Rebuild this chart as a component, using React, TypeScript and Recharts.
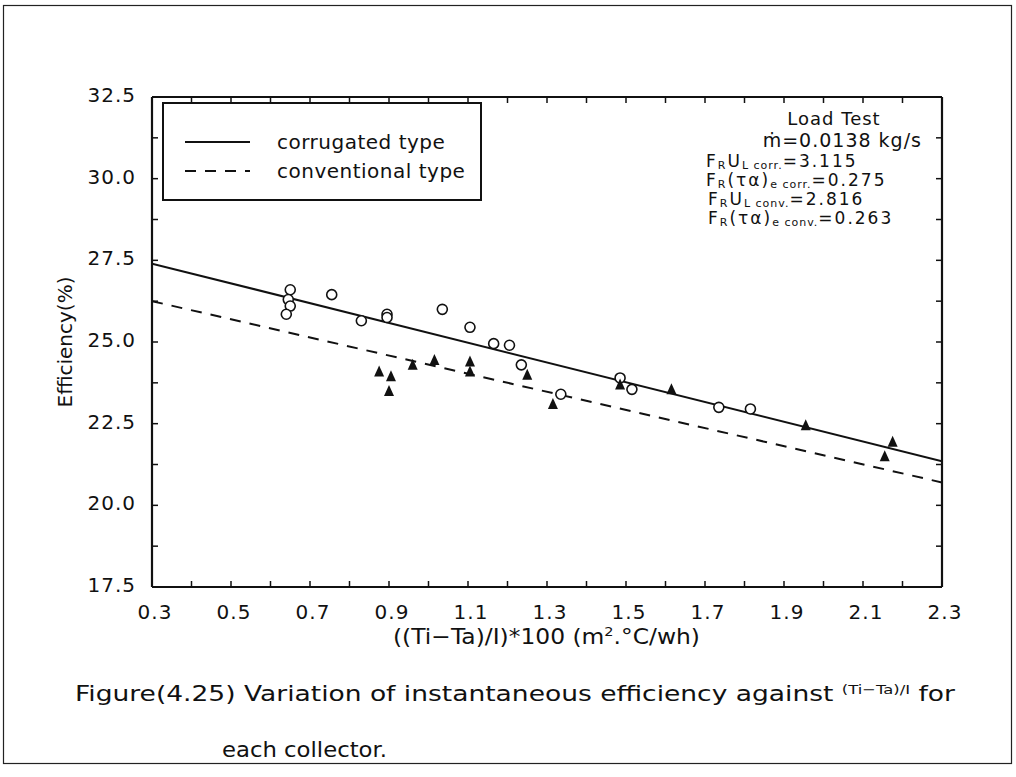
import { ComposedChart, Line, Scatter, XAxis, YAxis } from 'recharts';

// x = ((Ti-Ta)/I)*100, eff = efficiency %
const corrugatedX = [0.65, 0.645, 0.65, 0.64, 0.755, 0.83, 0.895, 0.895, 1.035, 1.105, 1.165, 1.205, 1.235, 1.335, 1.485, 1.515, 1.735, 1.815];
const corrugatedEff = [26.6, 26.3, 26.1, 25.85, 26.45, 25.65, 25.85, 25.75, 26.0, 25.45, 24.95, 24.9, 24.3, 23.4, 23.9, 23.55, 23.0, 22.95];

const conventionalX = [0.875, 0.905, 0.9, 0.96, 1.015, 1.105, 1.105, 1.25, 1.315, 1.485, 1.615, 1.955, 2.175, 2.155];
const conventionalEff = [24.1, 23.95, 23.5, 24.3, 24.45, 24.4, 24.1, 24.0, 23.1, 23.7, 23.55, 22.45, 21.95, 21.5];

// fitted lines, end points
const fitX = [0.3, 2.3];
const corrugatedFitEff = [27.4, 21.35];
const conventionalFitEff = [26.25, 20.7];

const xTicks = [0.3, 0.4, 0.5, 0.6, 0.7, 0.8, 0.9, 1.0, 1.1, 1.2, 1.3, 1.4, 1.5, 1.6, 1.7, 1.8, 1.9, 2.0, 2.1, 2.2, 2.3];
const xTickLabels = ['0.3', '0.5', '0.7', '0.9', '1.1', '1.3', '1.5', '1.7', '1.9', '2.1', '2.3'];
const yTicks = [17.5, 18.75, 20, 21.25, 22.5, 23.75, 25, 26.25, 27.5, 28.75, 30, 31.25, 32.5];
const yTickLabels = ['17.5', '20.0', '22.5', '25.0', '27.5', '30.0', '32.5'];

const corrugated = corrugatedX.map((x, i) => ({ x, eff: corrugatedEff[i] }));
const conventional = conventionalX.map((x, i) => ({ x, eff: conventionalEff[i] }));
const corrugatedFit = fitX.map((x, i) => ({ x, eff: corrugatedFitEff[i] }));
const conventionalFit = fitX.map((x, i) => ({ x, eff: conventionalFitEff[i] }));

const INK = '#111';
const FONT = '"DejaVu Sans", sans-serif';

const findLabel = (list: string[], v: number) => list.find((l) => Math.abs(Number(l) - v) < 1e-6);

const BottomTick = (props: any) => {
    const { x, y, payload } = props;
    const label = findLabel(xTickLabels, payload.value);
    return (
        <g>
            <line x1={x} x2={x} y1={y} y2={y - 6} stroke={INK} strokeWidth={1.5} />
            {label && (
                <text x={x + 3} y={y + 32} textAnchor="middle" fontSize={20} letterSpacing={1} fontFamily={FONT} fill={INK}>
                    {label}
                </text>
            )}
        </g>
    );
};

const TopTick = (props: any) => {
    const { x, y } = props;
    return <line x1={x} x2={x} y1={y} y2={y + 6} stroke={INK} strokeWidth={1.5} />;
};

const LeftTick = (props: any) => {
    const { x, y, payload } = props;
    const label = findLabel(yTickLabels, payload.value);
    return (
        <g>
            <line x1={x} x2={x + 6} y1={y} y2={y} stroke={INK} strokeWidth={1.5} />
            {label && (
                <text x={x - 16} y={y + 5} textAnchor="end" fontSize={20} letterSpacing={1} fontFamily={FONT} fill={INK}>
                    {label}
                </text>
            )}
        </g>
    );
};

const RightTick = (props: any) => {
    const { x, y } = props;
    return <line x1={x} x2={x - 6} y1={y} y2={y} stroke={INK} strokeWidth={1.5} />;
};

const OpenCircle = (props: any) => (
    <circle cx={props.cx} cy={props.cy} r={5} fill="#fff" stroke={INK} strokeWidth={1.6} />
);

const FilledTriangle = (props: any) => {
    const { cx, cy } = props;
    return <path d={`M${cx},${cy - 6} L${cx + 5},${cy + 5} L${cx - 5},${cy + 5} Z`} fill={INK} />;
};

const axisLine = { stroke: INK, strokeWidth: 2.2 };

export default function App() {
    return (
        <div style={{ position: 'fixed', left: 0, top: 0, width: 1016, height: 777, background: '#fff' }}>
            <ComposedChart
                width={1016}
                height={777}
                margin={{ top: 96, right: 73, bottom: 189, left: 151 }}
                style={{ position: 'absolute', left: 0, top: 0 }}
            >
                <XAxis xAxisId="b" orientation="bottom" type="number" dataKey="x" domain={[0.3, 2.3]} ticks={xTicks}
                    interval={0} height={1} tickSize={0} tickMargin={0} tickLine={false} axisLine={axisLine}
                    tick={<BottomTick />} allowDataOverflow />
                <XAxis xAxisId="t" orientation="top" type="number" dataKey="x" domain={[0.3, 2.3]} ticks={xTicks}
                    interval={0} height={1} tickSize={0} tickMargin={0} tickLine={false} axisLine={axisLine}
                    tick={<TopTick />} allowDataOverflow />
                <YAxis yAxisId="l" orientation="left" type="number" dataKey="eff" domain={[17.5, 32.5]} ticks={yTicks}
                    interval={0} width={1} tickSize={0} tickMargin={0} tickLine={false} axisLine={axisLine}
                    tick={<LeftTick />} allowDataOverflow />
                <YAxis yAxisId="r" orientation="right" type="number" dataKey="eff" domain={[17.5, 32.5]} ticks={yTicks}
                    interval={0} width={1} tickSize={0} tickMargin={0} tickLine={false} axisLine={axisLine}
                    tick={<RightTick />} allowDataOverflow />

                <Line xAxisId="b" yAxisId="l" data={corrugatedFit} dataKey="eff" stroke={INK} strokeWidth={2}
                    dot={false} isAnimationActive={false} />
                <Line xAxisId="t" yAxisId="r" data={conventionalFit} dataKey="eff" stroke={INK} strokeWidth={2}
                    strokeDasharray="11 9" dot={false} isAnimationActive={false} />
                <Scatter xAxisId="b" yAxisId="l" data={corrugated} dataKey="eff" shape={<OpenCircle />}
                    isAnimationActive={false} />
                <Scatter xAxisId="t" yAxisId="r" data={conventional} dataKey="eff" shape={<FilledTriangle />}
                    isAnimationActive={false} />
            </ComposedChart>

            <svg width={1016} height={777} style={{ position: 'absolute', left: 0, top: 0, pointerEvents: 'none' }}
                fontFamily={FONT} fill={INK}>
                {/* page frame */}
                <rect x={3.5} y={5.5} width={1008} height={758} fill="none" stroke="#222" strokeWidth={1.2} />

                {/* legend */}
                <rect x={163} y={103} width={318} height={97} fill="#fff" stroke={INK} strokeWidth={2} />
                <line x1={185} x2={250} y1={142} y2={142} stroke={INK} strokeWidth={2} />
                <line x1={185} x2={250} y1={171} y2={171} stroke={INK} strokeWidth={2} strokeDasharray="11 9" />
                <text x={277} y={149} fontSize={20} letterSpacing={0.5}>corrugated type</text>
                <text x={277} y={178} fontSize={20} letterSpacing={0.5}>conventional type</text>

                {/* test info */}
                <text x={834} y={125} fontSize={18} letterSpacing={1} textAnchor="middle">Load Test</text>
                <text x={922} y={147} fontSize={19} letterSpacing={1} textAnchor="end">ṁ=0.0138 kg/s</text>
                <g fontSize={17} letterSpacing={2}>
                    <text x={706} y={167}>
                        F<tspan fontSize={11} dy={2}>R</tspan><tspan dy={-2}>U</tspan><tspan fontSize={11} letterSpacing={1} dy={2}>L corr.</tspan><tspan dy={-2}>=3.115</tspan>
                    </text>
                    <text x={706} y={186}>
                        F<tspan fontSize={11} dy={2}>R</tspan><tspan dy={-2}>(τα)</tspan><tspan fontSize={11} letterSpacing={1} dy={2}>e corr.</tspan><tspan dy={-2}>=0.275</tspan>
                    </text>
                    <text x={708} y={205}>
                        F<tspan fontSize={11} dy={2}>R</tspan><tspan dy={-2}>U</tspan><tspan fontSize={11} letterSpacing={1} dy={2}>L conv.</tspan><tspan dy={-2}>=2.816</tspan>
                    </text>
                    <text x={708} y={224}>
                        F<tspan fontSize={11} dy={2}>R</tspan><tspan dy={-2}>(τα)</tspan><tspan fontSize={11} letterSpacing={1} dy={2}>e conv.</tspan><tspan dy={-2}>=0.263</tspan>
                    </text>
                </g>

                {/* axis titles */}
                <text x={72} y={342} fontSize={20} textAnchor="middle" transform="rotate(-90 72 342)">Efficiency(%)</text>
                <text x={393} y={644} fontSize={21} textLength={307} lengthAdjust="spacingAndGlyphs">
                    ((Ti−Ta)/I)*100 (m<tspan fontSize={13} dy={-8}>2</tspan><tspan dy={8}>.°C/wh)</tspan>
                </text>

                {/* caption */}
                <text x={75} y={701} fontSize={21} textLength={880} lengthAdjust="spacingAndGlyphs">
                    Figure(4.25) Variation of instantaneous efficiency against <tspan fontSize={13} dy={-7}>(Ti−Ta)/I</tspan><tspan dy={7}> for</tspan>
                </text>
                <text x={222} y={757} fontSize={21} textLength={165} lengthAdjust="spacingAndGlyphs">each collector.</text>
            </svg>
        </div>
    );
}
